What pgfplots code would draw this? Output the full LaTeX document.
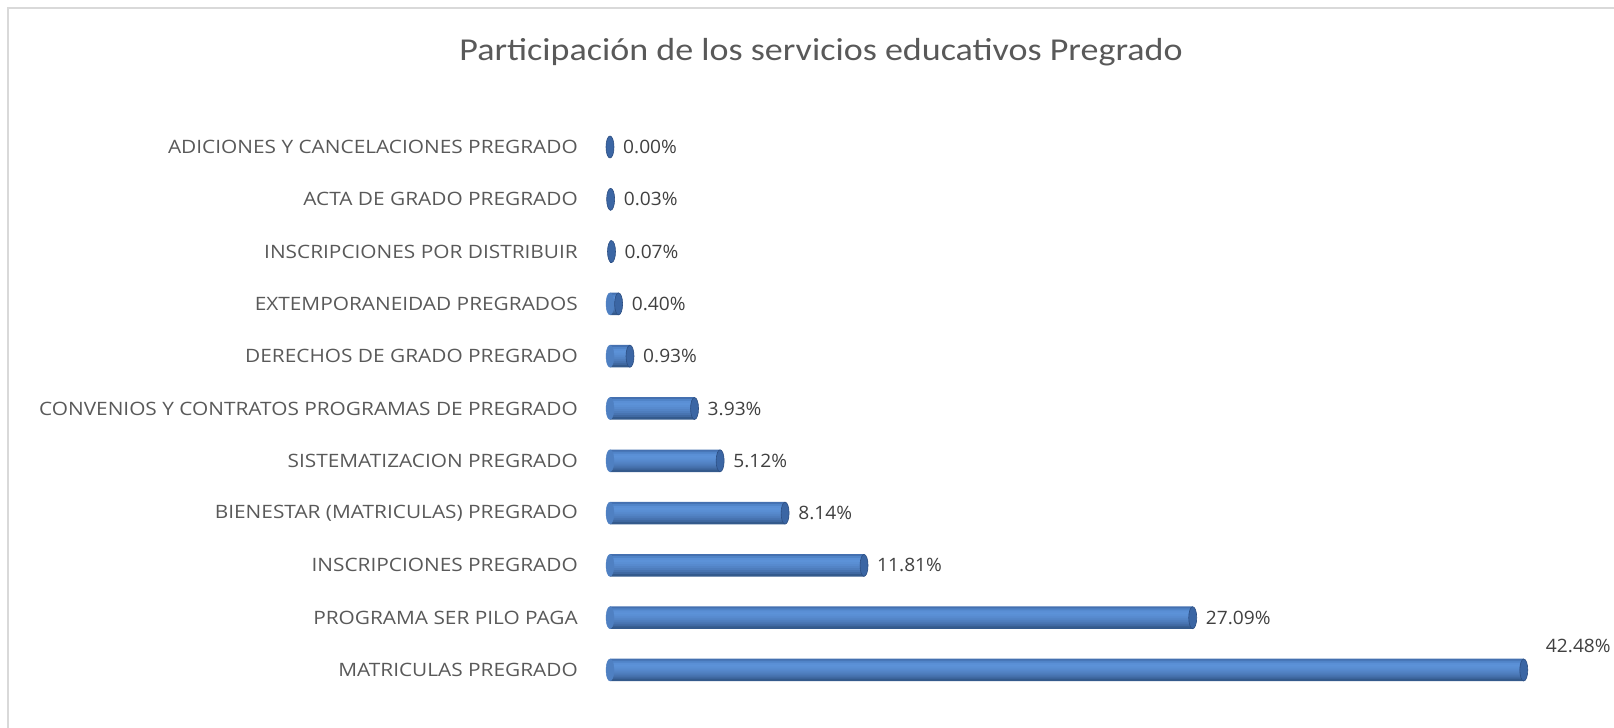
\documentclass[border=0pt]{standalone}
\usepackage{pgfplots}
\pgfplotsset{compat=1.18}
\usepackage{pgfplotstable}
\usepackage{fontspec}
\setmainfont{Open Sans}[FakeStretch=1.13]
\newfontfamily\valfont{Open Sans}[FakeStretch=1.04]
\newfontfamily\titlefont{Carlito}[FakeStretch=1.13]
\definecolor{lab}{HTML}{595959}
\definecolor{val}{HTML}{404040}
\definecolor{frame}{HTML}{D9D9D9}
\definecolor{capfill}{HTML}{3B66A4}
\definecolor{capdraw}{HTML}{2C4E82}
\definecolor{leftcap}{HTML}{4F80C2}
\definecolor{bA}{HTML}{4470B0}
\definecolor{bB}{HTML}{5084C8}
\definecolor{bC}{HTML}{5A8FD5}
\definecolor{bD}{HTML}{5C92D8}
\definecolor{bE}{HTML}{5A8FD4}
\definecolor{bF}{HTML}{578ACE}
\definecolor{bG}{HTML}{5384C6}
\definecolor{bH}{HTML}{4E7DBD}
\definecolor{bI}{HTML}{4874B1}
\definecolor{bJ}{HTML}{4069A2}
\definecolor{bK}{HTML}{345A8C}

\pgfdeclareplotmark{capR}{%
  \pgfpathellipse{\pgfpointorigin}{\pgfqpoint{4bp}{0pt}}{\pgfqpoint{0pt}{11bp}}%
  \pgfusepathqfillstroke}

\pgfplotstableread{
i v
0 42.48
1 27.09
2 11.81
3 8.14
4 5.12
5 3.93
6 0.93
7 0.40
8 0.07
9 0.03
10 0.00
}\datamain
\pgfplotstableread{
i v
1 27.09
2 11.81
3 8.14
4 5.12
5 3.93
6 0.93
7 0.40
8 0.07
9 0.03
10 0.00
}\datarest
\pgfplotstableread{
i v
0 42.48
}\datatop
\pgfplotstableread{
i v
0 0
1 0
2 0
3 0
4 0
5 0
6 0
7 0
}\dataleft

\newcommand{\band}[2]{%
  \addplot[xbar, bar width=2.5bp, bar shift=#1bp, draw=none, fill=#2, forget plot] table[x=v,y=i]{\datamain};}

\begin{document}
\begin{tikzpicture}
\path[use as bounding box] (0,0) rectangle (1614bp,728bp);
\draw[line width=2.5bp, color=frame] (8bp,0) -- (8bp,720bp) -- (1614bp,720bp);
\node[font=\titlefont\fontsize{32}{36}\selectfont, text=lab, anchor=base] at (821bp,667bp) {Participación de los servicios educativos Pregrado};
\begin{axis}[
  at={(610bp,31.85bp)}, anchor=south west,
  scale only axis, width=968bp, height=575.3bp,
  xmin=0, xmax=45, ymin=-0.5, ymax=10.5,
  axis line style={draw=none},
  xtick=\empty,
  ytick={0,...,10},
  yticklabels={MATRICULAS PREGRADO, PROGRAMA SER PILO PAGA, INSCRIPCIONES PREGRADO, BIENESTAR (MATRICULAS) PREGRADO, SISTEMATIZACION PREGRADO, CONVENIOS Y CONTRATOS PROGRAMAS DE PREGRADO, DERECHOS DE GRADO PREGRADO, EXTEMPORANEIDAD PREGRADOS, INSCRIPCIONES POR DISTRIBUIR, ACTA DE GRADO PREGRADO, ADICIONES Y CANCELACIONES PREGRADO},
  major tick length=0pt,
  yticklabel style={font=\fontsize{18.5}{20}\selectfont, text=lab, anchor=east, inner sep=0pt, xshift=-32bp},
  clip=false,
  /pgf/number format/assume math mode=true,
]
\addplot[only marks, mark=capR, mark options={fill=leftcap, draw=leftcap}] table[x=v,y=i]{\dataleft};
\band{10}{bA}
\band{8}{bB}
\band{6}{bC}
\band{4}{bD}
\band{2}{bE}
\band{0}{bF}
\band{-2}{bG}
\band{-4}{bH}
\band{-6}{bI}
\band{-8}{bJ}
\band{-10}{bK}
\addplot[only marks, mark=capR, mark options={fill=capfill, draw=capdraw, line width=0.6bp}] table[x=v,y=i]{\datamain};
\addplot[draw=none, mark=none, nodes near coords={\pgfmathprintnumber[fixed,fixed zerofill,precision=2]{\pgfplotspointmeta}\%}, point meta=x,
  nodes near coords style={anchor=west, inner sep=0pt, xshift=13bp, font=\valfont\fontsize{18.5}{20}\selectfont, text=val}] table[x=v,y=i]{\datarest};
\addplot[draw=none, mark=none, nodes near coords={\pgfmathprintnumber[fixed,fixed zerofill,precision=2]{\pgfplotspointmeta}\%}, point meta=x,
  nodes near coords style={anchor=west, inner sep=0pt, xshift=22bp, yshift=24bp, font=\valfont\fontsize{18.5}{20}\selectfont, text=val}] table[x=v,y=i]{\datatop};
\end{axis}
\end{tikzpicture}
\end{document}
